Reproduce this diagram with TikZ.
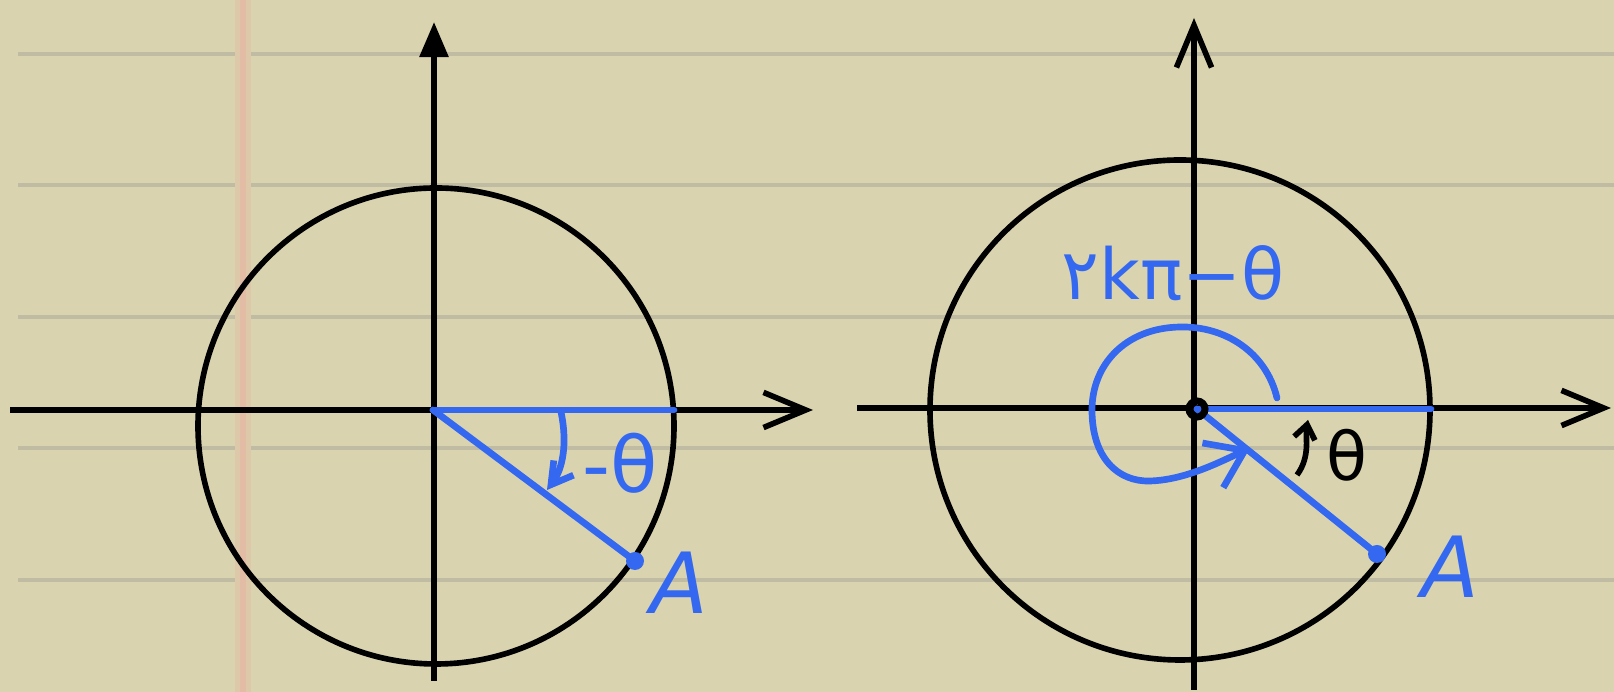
\documentclass[tikz,border=0pt]{standalone}
\usepackage{fontspec}
\newfontfamily\mano{DejaVu Sans}
\usetikzlibrary{arrows.meta}
\definecolor{papel}{RGB}{217,212,175}
\definecolor{renglon}{RGB}{192,188,164}
\definecolor{margen}{RGB}{226,188,164}
\definecolor{azul}{RGB}{52,104,240}
\tikzset{
  eje/.style={line width=1.6pt, black},
  trazo/.style={line width=1.9pt, azul, line cap=round},
  rotulo/.style={font=\mano\fontsize{24}{28}\selectfont, inner sep=0pt},
}
\begin{document}
\begin{tikzpicture}[x=0.01cm, y=-0.01cm, >={Straight Barb[length=12pt,width=10pt]}]
    % Hoja de cuaderno
    \fill[papel] (0,0) rectangle (1614,692);
    \useasboundingbox (0,0) rectangle (1614,692);
    \foreach \y in {54,185,317,448,580}
        \draw[renglon, line width=1pt] (18,\y) -- (1614,\y);
    \fill[margen!45!papel] (235,0) rectangle (251,692);
    \fill[margen] (240,0) rectangle (246,692);

    % Primer círculo: ángulo -theta
    \coordinate (O1) at (433,410);
    \coordinate (A1) at (635,561);
    \coordinate (X1) at (674,410);
    \draw[eje, ->] (10,410) -- (813,410);
    \draw[eje, -{Triangle[length=10pt,width=8pt]}] (434,681) -- (434,22);
    \draw[eje] (436,426) circle (238);
    \draw[trazo] (O1) -- (X1);
    \draw[trazo] (O1) -- (A1);
    \fill[azul] (A1) circle (9);
    % Flecha del ángulo
    \draw[trazo, -{Straight Barb[length=6pt,width=7pt]}] (561,412) .. controls (568,445) and (562,470) .. (547,490);
    \node[rotulo, azul, font=\mano\fontsize{22}{24}\selectfont] (t1) at (620,463) {-θ};
    \node[rotulo, azul] (a1) at (679,583) {\itshape A};

    % Segundo círculo: ángulo 2k pi - theta
    \coordinate (O2) at (1197,409);
    \coordinate (A2) at (1377,554);
    \coordinate (X2) at (1431,409);
    \draw[eje, ->] (857,408) -- (1611,408);
    \draw[eje, ->] (1194,690) -- (1194,18);
    \draw[eje] (1180,410) circle (250);
    \draw[trazo] (O2) -- (X2);
    \draw[trazo] (O2) -- (A2);
    \fill[azul] (A2) circle (9);
    \draw[eje, line width=2pt] (O2) circle (8);
    % Espiral de las vueltas
    \draw[trazo, -{Straight Barb[length=10pt,width=14pt]}] (1277,398)
        .. controls (1266,352) and (1225,326) .. (1180,327)
        .. controls (1125,328) and (1092,365) .. (1092,410)
        .. controls (1092,458) and (1118,482) .. (1150,481)
        .. controls (1185,480) and (1220,462) .. (1250,448);
    % Flecha del ángulo theta
    \draw[eje, -{Straight Barb[length=4pt,width=6pt]}] (1297,475) .. controls (1311,456) and (1305,436) .. (1308,420);
    \node[rotulo, font=\mano\fontsize{19}{22}\selectfont] (t2) at (1347,455) {θ};
    \node[rotulo, azul, font=\mano\fontsize{20}{24}\selectfont] (k2) at (1173,273) {۲kπ−θ};
    \node[rotulo, azul] (a2) at (1450,567) {\itshape A};
\end{tikzpicture}
\end{document}
